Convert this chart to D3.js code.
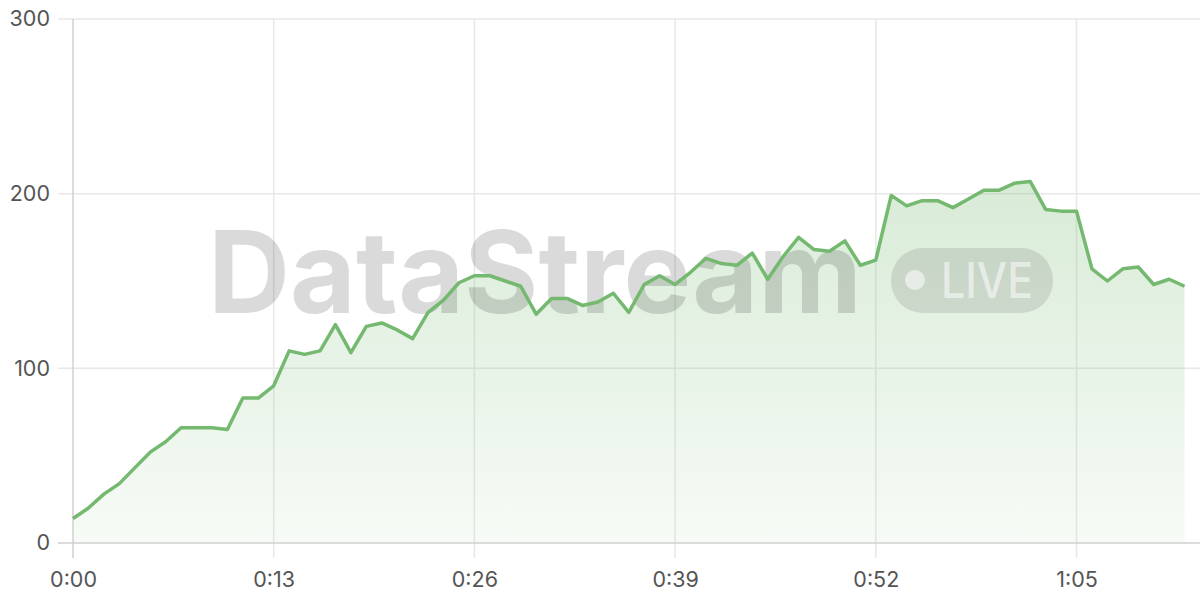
<!DOCTYPE html>
<html><head><meta charset="utf-8">
<script src="https://cdn.jsdelivr.net/npm/d3@7"></script>
<style>html,body{margin:0;padding:0;background:#fff;}svg{display:block;font-family:Inter,"Noto Sans",sans-serif;}</style>
</head><body>
<svg id="chart" width="1200" height="600"></svg>
<script>
const seconds = d3.range(0, 73);
const values = [14,20,28,34,43,52,58,66,66,66,65,83,83,90,110,108,110,125,109,124,
  126,122,117,132,139,149,153,153,150,147,131,140,140,136,138,143,132,148,153,148,
  155,163,160,159,166,151,164,175,168,167,173,159,162,199,193,196,196,192,197,202,
  202,206,207,191,190,190,157,150,157,158,148,151,147];
const xTicks = [0,13,26,39,52,65];
const xTickLabels = ["0:00","0:13","0:26","0:39","0:52","1:05"];
const yTicks = [0,100,200,300];

const svg = d3.select("#chart");
const m = {left:73, right:0, top:19, bottom:57};
const W = 1200, H = 600;
const x = d3.scaleLinear().domain([0,73]).range([m.left, W - m.right]);
const y = d3.scaleLinear().domain([0,300]).range([H - m.bottom, m.top]);

const defs = svg.append("defs");
const grad = defs.append("linearGradient").attr("id","fillg").attr("x1",0).attr("y1",0).attr("x2",0).attr("y2",1);
grad.append("stop").attr("offset","0%").attr("stop-color","#74b96f").attr("stop-opacity",0.28);
grad.append("stop").attr("offset","100%").attr("stop-color","#74b96f").attr("stop-opacity",0.06);

// grid
svg.append("g").selectAll("line.hg").data(yTicks.slice(1)).join("line")
  .attr("x1", m.left-15).attr("x2", W).attr("y1", d=>y(d)).attr("y2", d=>y(d))
  .attr("stroke","#e8e8e8").attr("stroke-width",1.5);
svg.append("g").selectAll("line.vg").data(xTicks.slice(1)).join("line")
  .attr("x1", d=>x(d)).attr("x2", d=>x(d)).attr("y1", y(300)).attr("y2", y(0)+15)
  .attr("stroke","#e8e8e8").attr("stroke-width",1.5);

// area
const data = seconds.map((s,i)=>({s, v: values[i]}));
svg.append("path").datum(data)
  .attr("d", d3.area().x(d=>x(d.s)).y0(y(0)).y1(d=>y(d.v)))
  .attr("fill","url(#fillg)");

// watermark
const wm = svg.append("g");
wm.append("text").attr("x",208).attr("y",313).attr("font-size",114).attr("font-weight",700)
  .attr("textLength",654).attr("lengthAdjust","spacingAndGlyphs")
  .attr("fill","#000").attr("fill-opacity",0.145).text("DataStream");
wm.append("rect").attr("x",891).attr("y",248).attr("width",162).attr("height",65).attr("rx",32)
  .attr("fill","#000").attr("fill-opacity",0.1);
wm.append("circle").attr("cx",915).attr("cy",280).attr("r",10).attr("fill","#fff").attr("fill-opacity",0.55);
wm.append("text").attr("x",941).attr("y",298).attr("font-size",50).attr("font-weight",500)
  .attr("textLength",92).attr("lengthAdjust","spacingAndGlyphs")
  .attr("fill","#fff").attr("fill-opacity",0.55).text("LIVE");

// axes
svg.append("line").attr("x1",m.left-15).attr("x2",W).attr("y1",y(0)).attr("y2",y(0)).attr("stroke","#d0d0d0").attr("stroke-width",1.5);
svg.append("line").attr("x1",m.left).attr("x2",m.left).attr("y1",y(300)).attr("y2",y(0)+15).attr("stroke","#d0d0d0").attr("stroke-width",1.5);

const yAxis = svg.append("g").attr("transform",`translate(${m.left-23},0)`)
  .call(d3.axisLeft(y).tickValues(yTicks).tickSize(0).tickPadding(0));
yAxis.select(".domain").remove();
yAxis.selectAll("text").attr("font-size",21.5).attr("fill","#555").attr("font-family","Inter,sans-serif");

const xAxis = svg.append("g").attr("transform",`translate(0,${y(0)+29})`)
  .call(d3.axisBottom(x).tickValues(xTicks).tickFormat((d,i)=>xTickLabels[i]).tickSize(0).tickPadding(0));
xAxis.select(".domain").remove();
xAxis.selectAll("text").attr("font-size",21.5).attr("fill","#555").attr("font-family","Inter,sans-serif").attr("dy","0.71em");

// line
svg.append("path").datum(data)
  .attr("d", d3.line().x(d=>x(d.s)).y(d=>y(d.v)))
  .attr("fill","none").attr("stroke","#74b96f").attr("stroke-width",3.5).attr("stroke-linejoin","round");
</script>
</body></html>
